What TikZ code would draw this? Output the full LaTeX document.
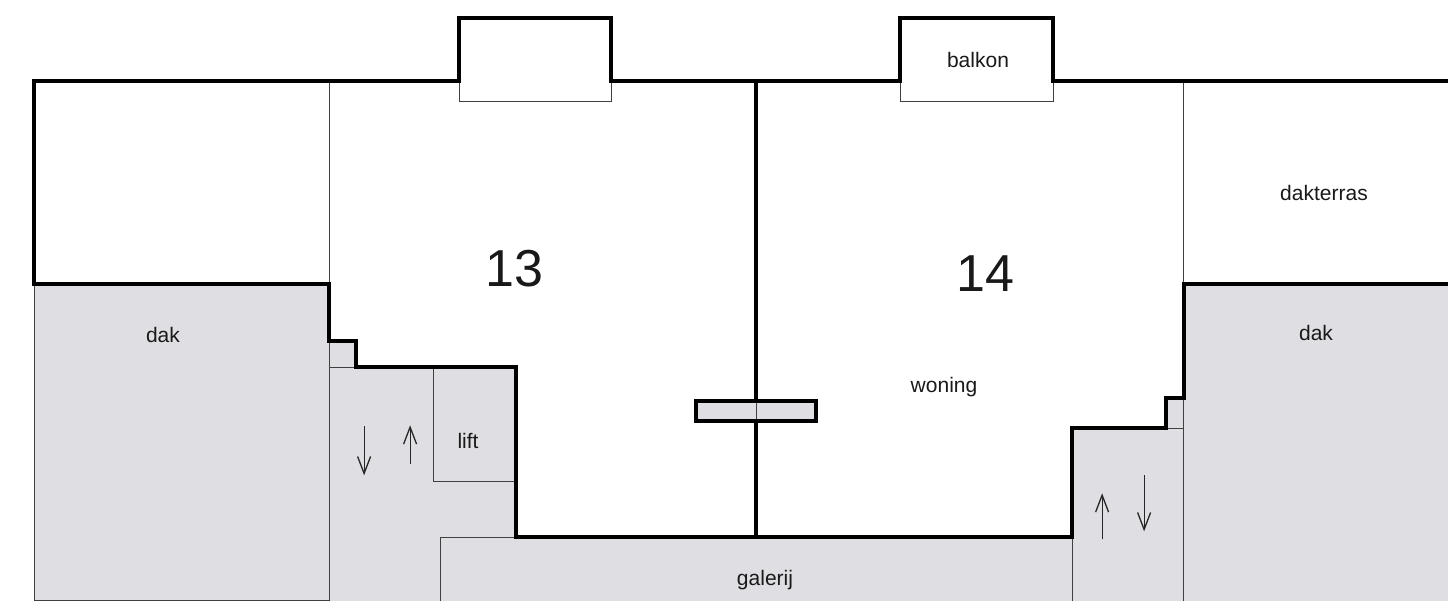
\documentclass[tikz,border=0pt]{standalone}
\usepackage{fontspec}
\setmainfont{Liberation Sans}
\usetikzlibrary{arrows.meta}
\definecolor{roof}{HTML}{DFDEE3}
\tikzset{
  thick wall/.style={draw=black,line width=3.8pt,line join=miter,line cap=rect},
  thin wall/.style={draw=black!75,line width=1.2pt},
  flow/.style={draw=black!85,line width=1.2pt,-{Straight Barb[length=17pt,width=13pt,line width=1.3pt]}},
  lab/.style={font=\fontsize{21pt}{24pt}\selectfont,text=black!90,inner sep=0pt},
  big/.style={font=\fontsize{52pt}{56pt}\selectfont,text=black!90,inner sep=0pt},
}
\begin{document}
\begin{tikzpicture}[x=1pt,y=-1pt]
\useasboundingbox (0,0) rectangle (1448,601);
\fill[white] (0,0) rectangle (1448,601);
\begin{scope}[shift={(0.1,0.3)}]
% grey areas
\fill[roof] (34,284) -- (329,284) -- (329,341) -- (356,341) -- (356,367) -- (516,367) -- (516,537)
  -- (1072,537) -- (1072,428) -- (1166,428) -- (1166,398) -- (1184,398) -- (1184,284) -- (1449,284)
  -- (1449,602) -- (34,602) -- cycle;
\fill[roof] (696,401) rectangle (816,421);
% thin lines
\draw[thin wall] (34,284) -- (34,600) -- (329,600);
\draw[thin wall] (329,81) -- (329,284);
\draw[thin wall] (329,341) -- (329,602);
\draw[thin wall] (329,367) -- (356,367);
\draw[thin wall] (433,367) -- (433,481) -- (516,481);
\draw[thin wall] (440,602) -- (440,537) -- (516,537);
\draw[thin wall] (1072,537) -- (1072,602);
\draw[thin wall] (1183,81) -- (1183,284);
\draw[thin wall] (1183,398) -- (1183,602);
\draw[thin wall] (1166,428) -- (1183,428);
\draw[thin wall] (459,81) -- (459,101) -- (611,101) -- (611,81);
\draw[thin wall] (900,81) -- (900,101) -- (1053,101) -- (1053,81);
\draw[thin wall] (756,401) -- (756,421);
% thick walls
\draw[thick wall] (34,284) -- (34,81) -- (459,81) -- (459,18) -- (611,18) -- (611,81) -- (900,81)
  -- (900,18) -- (1053,18) -- (1053,81) -- (1449,81);
\draw[thick wall] (34,284) -- (329,284) -- (329,341) -- (356,341) -- (356,367) -- (516,367) -- (516,537)
  -- (1072,537) -- (1072,428) -- (1166,428) -- (1166,398) -- (1184,398) -- (1184,284) -- (1449,284);
\draw[thick wall] (756,81) -- (756,401);
\draw[thick wall] (756,421) -- (756,537);
\draw[thick wall] (696,401) rectangle (816,421);
% stairs
\coordinate (a1s) at (364,426); \coordinate (a1e) at (364,475);
\coordinate (a2s) at (410,464); \coordinate (a2e) at (410,425);
\coordinate (a3s) at (1102,539); \coordinate (a3e) at (1102,493);
\coordinate (a4s) at (1144,475); \coordinate (a4e) at (1144,531);
\draw[flow] (a1s) -- (a1e);
\draw[flow] (a2s) -- (a2e);
\draw[flow] (a3s) -- (a3e);
\draw[flow] (a4s) -- (a4e);
\end{scope}
% labels
\node[big] (n13) at (514.5,269) {13};
\node[big] (n14) at (985,274) {14};
\node[lab] (balkon) at (978,60) {balkon};
\node[lab] (dakterras) at (1324,193) {dakterras};
\node[lab] (dakl) at (163,335) {dak};
\node[lab] (dakr) at (1316,333) {dak};
\node[lab] (woning) at (944,387) {woning};
\node[lab] (lift) at (468,441) {lift};
\node[lab] (galerij) at (765,580) {galerij};
\end{tikzpicture}
\end{document}
